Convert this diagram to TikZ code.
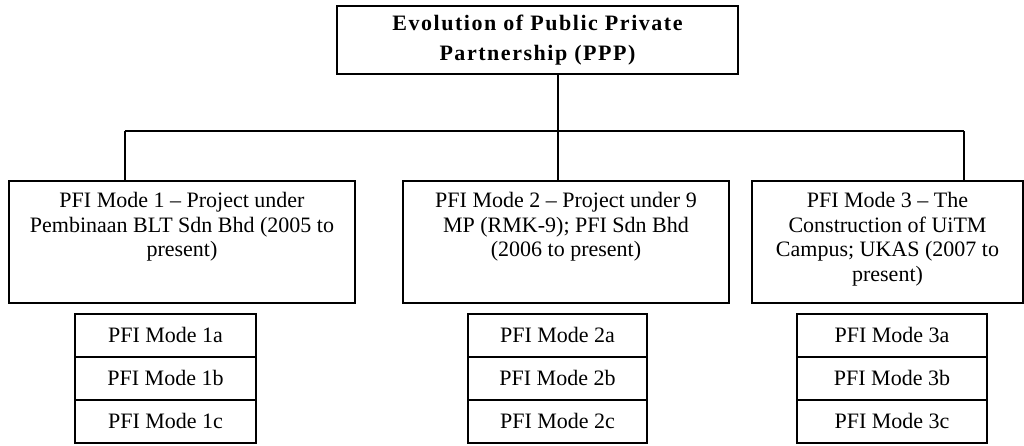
\documentclass[tikz,border=0pt]{standalone}
\usepackage{fontspec}
\setmainfont{Liberation Serif}
\newfontfamily\titlefont[LetterSpace=7]{Liberation Serif}
\usetikzlibrary{positioning}

\begin{document}
\begin{tikzpicture}[x=1pt,y=-1pt]
  \tikzstyle{box}=[draw, line width=1.5pt, inner sep=0pt]
  \tikzstyle{modetext}=[inner sep=0pt, align=center, font=\fontsize{22}{24.5}\selectfont]
  \tikzstyle{sub}=[box, minimum height=43pt, font=\fontsize{22}{24}\selectfont]
  \tikzstyle{link}=[line width=1.5pt]
  \useasboundingbox (0,0) rectangle (1024,445);

  % root
  \node[box, minimum width=401pt, minimum height=68pt, align=center,
        font=\titlefont\bfseries\fontsize{22}{30}\selectfont] (ppp) at (537.5,40)
    {Evolution of Public Private\\Partnership (PPP)};

  % the three modes
  \node[box, minimum width=346pt, minimum height=122pt] (m1) at (182,242) {};
  \node[box, minimum width=326pt, minimum height=122pt] (m2) at (566,242) {};
  \node[box, minimum width=271pt, minimum height=122pt] (m3) at (887.5,242) {};
  \node[modetext, below=12pt of m1.north] (m1t)
    {PFI Mode 1 -- Project under\\Pembinaan BLT Sdn Bhd (2005 to\\present)};
  \node[modetext, below=12pt of m2.north] (m2t)
    {PFI Mode 2 -- Project under 9\\MP (RMK-9); PFI Sdn Bhd\\(2006 to present)};
  \node[modetext, below=12pt of m3.north] (m3t)
    {PFI Mode 3 -- The\\Construction of UiTM\\Campus; UKAS (2007 to\\present)};

  % sub modes
  \node[sub, minimum width=181pt, anchor=north] (s1a) at (165.5,313) {PFI Mode 1a};
  \node[sub, minimum width=181pt, below=-1.5pt of s1a] (s1b) {PFI Mode 1b};
  \node[sub, minimum width=181pt, below=-1.5pt of s1b] (s1c) {PFI Mode 1c};
  \node[sub, minimum width=179pt, anchor=north] (s2a) at (557.5,313) {PFI Mode 2a};
  \node[sub, minimum width=179pt, below=-1.5pt of s2a] (s2b) {PFI Mode 2b};
  \node[sub, minimum width=179pt, below=-1.5pt of s2b] (s2c) {PFI Mode 2c};
  \node[sub, minimum width=190pt, anchor=north] (s3a) at (892,313) {PFI Mode 3a};
  \node[sub, minimum width=190pt, below=-1.5pt of s3a] (s3b) {PFI Mode 3b};
  \node[sub, minimum width=190pt, below=-1.5pt of s3b] (s3c) {PFI Mode 3c};

  % connectors
  \coordinate (j1) at (125,131);
  \coordinate (j2) at (558,131);
  \coordinate (j3) at (964,131);
  \draw[link] (ppp.south -| j2) -- (j2);
  \draw[link] (j1) -- (j3);
  \draw[link] (j1) -- (j1 |- m1.north);
  \draw[link] (j2) -- (j2 |- m2.north);
  \draw[link] (j3) -- (j3 |- m3.north);
\end{tikzpicture}
\end{document}
